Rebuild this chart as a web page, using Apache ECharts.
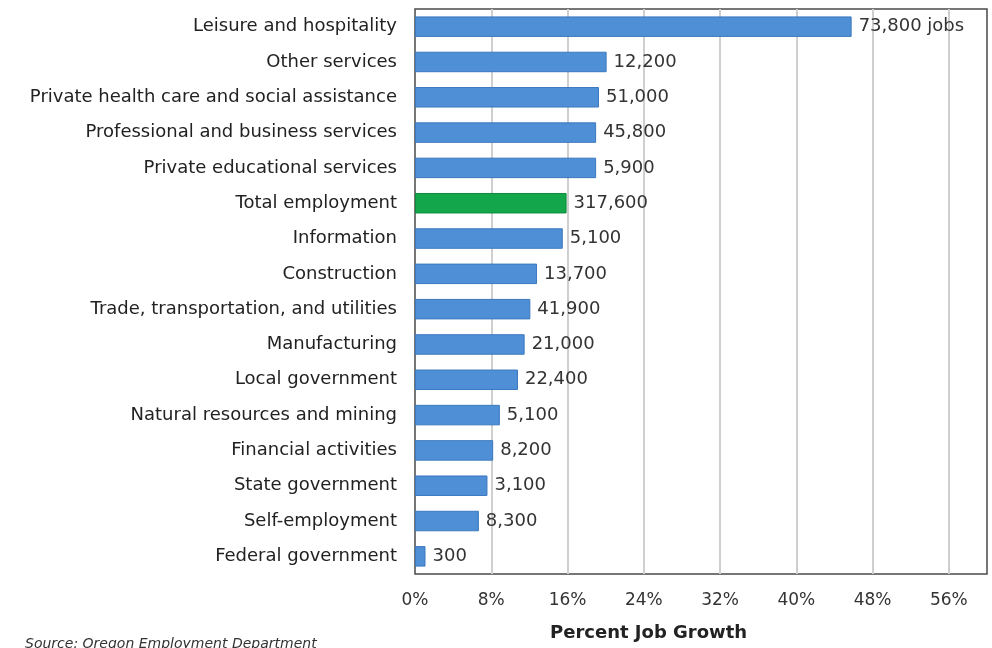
<!DOCTYPE html>
<html>
<head>
<meta charset="utf-8">
<script src="https://cdn.jsdelivr.net/npm/echarts@6/dist/echarts.min.js"></script>
<style>html,body{margin:0;padding:0;background:#fff;}#c{width:992px;height:648px;}</style>
</head>
<body>
<div id="c"></div>
<script>
const categories = [
  "Leisure and hospitality",
  "Other services",
  "Private health care and social assistance",
  "Professional and business services",
  "Private educational services",
  "Total employment",
  "Information",
  "Construction",
  "Trade, transportation, and utilities",
  "Manufacturing",
  "Local government",
  "Natural resources and mining",
  "Financial activities",
  "State government",
  "Self-employment",
  "Federal government"
];
const growthPct = [45.8, 20.1, 19.3, 19.0, 19.0, 15.9, 15.5, 12.8, 12.1, 11.5, 10.8, 8.9, 8.2, 7.6, 6.7, 1.1];
const jobs = ["73,800 jobs", "12,200", "51,000", "45,800", "5,900", "317,600", "5,100", "13,700", "41,900", "21,000", "22,400", "5,100", "8,200", "3,100", "8,300", "300"];
const highlight = "Total employment";
const xTicks = [0, 8, 16, 24, 32, 40, 48, 56];

const FONT = "'DejaVu Sans', sans-serif";
const chart = echarts.init(document.getElementById('c'), null, {renderer: 'canvas'});
const data = growthPct.map((v, i) => ({
  value: v,
  label: {formatter: jobs[i]},
  itemStyle: categories[i] === highlight ? {color: '#13a64a', borderColor: '#0e8a3c'} : undefined
}));
chart.setOption({
  animation: false,
  backgroundColor: '#fff',
  grid: {left: 415, right: 5, top: 9, bottom: 74, show: true, borderColor: '#4a4a4a', borderWidth: 1.5, containLabel: false},
  xAxis: {
    type: 'value', min: 0, max: 60, interval: 8,
    axisLine: {show: false}, axisTick: {show: false},
    splitLine: {show: true, showMinLine: false, showMaxLine: false, lineStyle: {color: '#cfcfcf', width: 2}},
    axisLabel: {
      margin: 18, fontSize: 17, color: '#333', fontFamily: FONT,
      formatter: v => xTicks.indexOf(v) >= 0 ? v + '%' : ''
    }
  },
  yAxis: {
    type: 'category', data: categories, inverse: true,
    axisLine: {show: false}, axisTick: {show: false}, splitLine: {show: false},
    axisLabel: {margin: 18, fontSize: 18, color: '#222', fontFamily: FONT}
  },
  series: [{
    type: 'bar', data: data, barCategoryGap: '42%',
    itemStyle: {color: '#4f8fd6', borderColor: '#3b78bf', borderWidth: 1},
    label: {show: true, position: 'right', distance: 7, fontSize: 18, color: '#333', fontFamily: FONT}
  }],
  graphic: [
    {type: 'text', left: 550, top: 624, style: {text: 'Percent Job Growth', font: 'bold 18px ' + FONT, fill: '#222'}},
    {type: 'text', left: 25, top: 637, style: {text: 'Source: Oregon Employment Department', font: 'italic 14px ' + FONT, fill: '#333'}}
  ]
});
</script>
</body>
</html>
